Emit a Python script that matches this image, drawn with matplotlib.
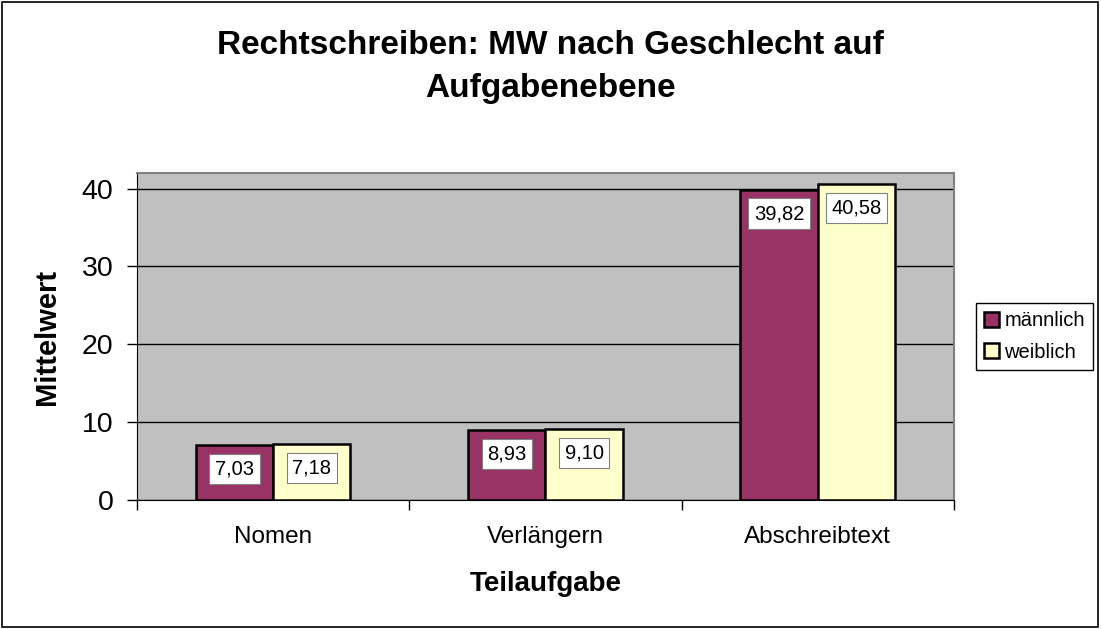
"""Rechtschreiben: Mittelwerte nach Geschlecht je Teilaufgabe."""

import numpy as np
import matplotlib
matplotlib.use("Agg")
import matplotlib.pyplot as plt
from matplotlib.patches import Rectangle

plt.rcParams['font.family'] = ['Liberation Sans', 'DejaVu Sans']

categories = ['Nomen', 'Verlängern', 'Abschreibtext']
maennlich = [7.03, 8.93, 39.82]
weiblich = [7.18, 9.10, 40.58]
series = {'männlich': maennlich, 'weiblich': weiblich}
colors = {'männlich': '#993366', 'weiblich': '#FFFFCC'}
yticks = [0, 10, 20, 30, 40]

fig = plt.figure(figsize=(11.01, 6.29), dpi=100)
ax = fig.add_axes([0.1244, 0.2051, 0.7421, 0.5199])
ax.set_facecolor('#C0C0C0')

x = np.arange(len(categories))
width = 0.284
for i, (name, vals) in enumerate(series.items()):
    offs = (i - 0.5) * width
    bars = ax.bar(x + offs, vals, width, color=colors[name], edgecolor='black',
                  linewidth=1.8, label=name, zorder=3)
    for b, v in zip(bars, vals):
        ax.annotate(f'{v:.2f}'.replace('.', ','),
                    (b.get_x() + b.get_width() / 2, v),
                    xytext=(0, -17), textcoords='offset points',
                    ha='center', va='center', fontsize=14.5, zorder=4,
                    bbox=dict(boxstyle='square,pad=0.28', facecolor='white',
                              edgecolor='#808080', linewidth=0.8))

ax.set_xlim(-0.5, len(categories) - 0.5)
ax.set_ylim(0, 42)
ax.set_yticks(yticks)
ax.yaxis.grid(True, color='black', linewidth=1.0, zorder=1)
ax.set_axisbelow(True)
ax.tick_params(axis='y', labelsize=20.5, length=7, width=1, direction='out', pad=10)

ax.set_xticks(x)
ax.set_xticklabels(categories, fontsize=17.5)
ax.tick_params(axis='x', length=0, pad=19)
ax.set_xticks(np.arange(len(categories) + 1) - 0.5, minor=True)
ax.tick_params(axis='x', which='minor', length=7, width=1, direction='out')

for side in ['top', 'right']:
    ax.spines[side].set_color('#808080')
    ax.spines[side].set_linewidth(1.5)
ax.spines['left'].set_color('black')
ax.spines['bottom'].set_color('black')

ax.set_ylabel('Mittelwert', fontsize=21, fontweight='bold', labelpad=15)
ax.set_xlabel('Teilaufgabe', fontsize=20, fontweight='bold', labelpad=16)

fig.text(0.5, 0.894, 'Rechtschreiben: MW nach Geschlecht auf\nAufgabenebene',
         ha='center', va='center', fontsize=24, fontweight='bold', linespacing=1.5)

leg = fig.legend(loc='center left', bbox_to_anchor=(0.8865, 0.465), fontsize=14.5,
                 frameon=True, fancybox=False, edgecolor='black', framealpha=1,
                 handlelength=0.75, handleheight=0.75, handletextpad=0.25,
                 borderpad=0.4, labelspacing=0.6, borderaxespad=0)
leg.get_frame().set_linewidth(1.0)

fig.patches.append(Rectangle((0.002, 0.003), 0.995, 0.994, transform=fig.transFigure,
                             fill=False, edgecolor='black', linewidth=1.2))

plt.savefig('out.png', dpi=100)
plt.close()
